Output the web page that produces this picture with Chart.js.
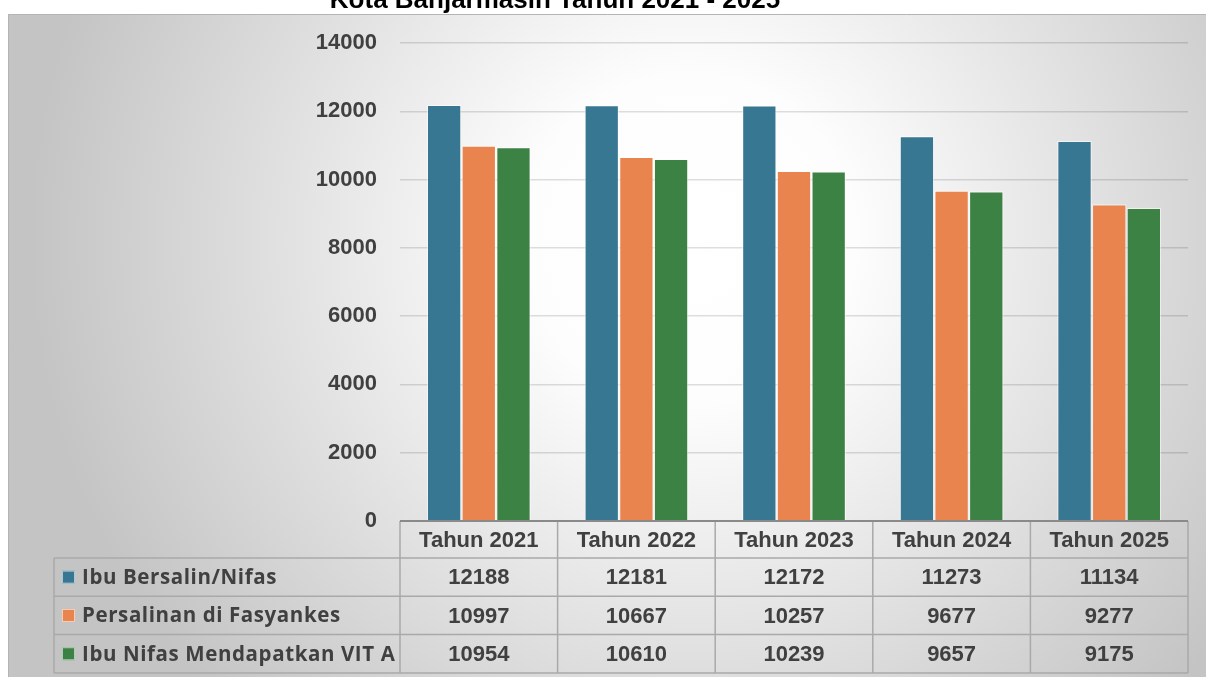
<!DOCTYPE html>
<html>
<head>
<meta charset="utf-8">
<script src="https://cdn.jsdelivr.net/npm/chart.js@4"></script>
<style>
  html, body { margin: 0; padding: 0; background: #ffffff; overflow: hidden; }
  #wrap { position: relative; width: 1206px; height: 677px; }
  #chart { position: absolute; left: 0; top: 0; }
  #title {
    position: absolute; left: 0; top: -16px; width: 1110px;
    text-align: center; white-space: nowrap;
    font: bold 26px "Liberation Sans", Arial, sans-serif; color: #000000;
  }
</style>
</head>
<body>
<div id="wrap">
  <canvas id="chart" width="1206" height="677"></canvas>
  <div id="title">Kota Banjarmasin Tahun 2021 - 2025</div>
</div>
<script>
// Categories (years) and series
const categories = ['Tahun 2021', 'Tahun 2022', 'Tahun 2023', 'Tahun 2024', 'Tahun 2025'];
const seriesNames = ['Ibu Bersalin/Nifas', 'Persalinan di Fasyankes', 'Ibu Nifas Mendapatkan VIT A'];
const ibuBersalinNifas = [12188, 12181, 12172, 11273, 11134];
const persalinanFasyankes = [10997, 10667, 10257, 9677, 9277];
const ibuNifasVitA = [10954, 10610, 10239, 9657, 9175];
const yTickMin = 0;
const yTickMax = 14000;
const yTickStep = 2000;

const seriesColors = ['#387792', '#ea844f', '#3b8244'];
const textColor = '#404040';

// Panel background: soft radial grey gradient with a thin border
const panelBackground = {
  id: 'panelBackground',
  beforeDraw(chart) {
    const ctx = chart.ctx;
    ctx.save();
    const g = ctx.createRadialGradient(690, 240, 0, 690, 240, 660);
    g.addColorStop(0, '#ffffff');
    g.addColorStop(0.25, '#fdfdfd');
    g.addColorStop(1, '#c4c4c4');
    ctx.fillStyle = g;
    ctx.fillRect(8, 14, 1198, 663);
    ctx.strokeStyle = '#b4b4b4';
    ctx.lineWidth = 1;
    ctx.beginPath();
    ctx.moveTo(8.5, 677);
    ctx.lineTo(8.5, 14.5);
    ctx.lineTo(1206, 14.5);
    ctx.stroke();
    ctx.restore();
  }
};

// Data table under the plot: header row of categories, one row per series
const dataTable = {
  id: 'dataTable',
  afterDraw(chart) {
    const ctx = chart.ctx;
    const xs = chart.scales.x;
    const area = chart.chartArea;
    const n = categories.length;
    const colW = (xs.right - xs.left) / n;
    const left = xs.left, right = xs.right;
    const legendLeft = 54;
    const top = area.bottom;
    const headerH = 37;
    const rowH = 38.3;
    const rowTops = [top + headerH];
    for (let r = 1; r <= seriesNames.length; r++) rowTops.push(top + headerH + r * rowH);
    const bottom = rowTops[rowTops.length - 1];

    ctx.save();
    // grid of the table
    ctx.strokeStyle = '#a9a9a9';
    ctx.lineWidth = 1.5;
    ctx.beginPath();
    for (let i = 0; i <= n; i++) {
      const x = left + i * colW;
      ctx.moveTo(x, top);
      ctx.lineTo(x, bottom);
    }
    ctx.moveTo(legendLeft, rowTops[0]);
    ctx.lineTo(legendLeft, bottom);
    rowTops.forEach(y => {
      ctx.moveTo(legendLeft, y);
      ctx.lineTo(right, y);
    });
    ctx.stroke();

    // axis baseline / table top
    ctx.strokeStyle = '#8a8a8a';
    ctx.lineWidth = 2;
    ctx.beginPath();
    ctx.moveTo(left, top);
    ctx.lineTo(right, top);
    ctx.stroke();

    ctx.fillStyle = textColor;
    ctx.textAlign = 'center';
    ctx.textBaseline = 'middle';
    ctx.font = 'bold 22px "Liberation Sans", Arial, sans-serif';
    categories.forEach((c, i) => {
      ctx.fillText(c, left + (i + 0.5) * colW, top + headerH / 2 + 1);
    });

    chart.data.datasets.forEach((ds, r) => {
      const yMid = (rowTops[r] + rowTops[r + 1]) / 2 + 1;
      ds.data.forEach((v, i) => {
        ctx.fillText(String(v), left + (i + 0.5) * colW, yMid);
      });
    });

    // legend keys and series names
    ctx.textAlign = 'left';
    ctx.font = 'bold 20.5px "Open Sans", sans-serif';
    if ('letterSpacing' in ctx) ctx.letterSpacing = '0.6px';
    chart.data.datasets.forEach((ds, r) => {
      const yMid = (rowTops[r] + rowTops[r + 1]) / 2;
      ctx.fillStyle = ds.backgroundColor;
      ctx.fillRect(62, yMid - 6.5, 13, 13);
      ctx.strokeStyle = 'rgba(255,255,255,0.6)';
      ctx.lineWidth = 1;
      ctx.strokeRect(62.5, yMid - 6, 12, 12);
      ctx.fillStyle = textColor;
      ctx.fillText(ds.label, 82, yMid + 1);
    });
    ctx.restore();
  }
};

const seriesValues = [ibuBersalinNifas, persalinanFasyankes, ibuNifasVitA];

new Chart(document.getElementById('chart'), {
  type: 'bar',
  data: {
    labels: categories,
    datasets: seriesNames.map((name, i) => ({
      label: name,
      data: seriesValues[i],
      backgroundColor: seriesColors[i],
      borderColor: 'rgba(255,255,255,0.55)',
      borderWidth: 1.2,
      categoryPercentage: 0.66,
      barPercentage: 1.0
    }))
  },
  options: {
    responsive: false,
    animation: false,
    devicePixelRatio: 1,
    layout: { padding: { top: 43, right: 18, bottom: 156, left: 0 } },
    plugins: {
      legend: { display: false },
      tooltip: { enabled: false },
      title: { display: false }
    },
    scales: {
      x: { display: false },
      y: {
        min: yTickMin,
        max: yTickMax,
        ticks: {
          stepSize: yTickStep,
          padding: 23,
          color: textColor,
          callback: v => String(v),
          font: { family: '"Liberation Sans", Arial, sans-serif', size: 22, weight: 'bold' }
        },
        grid: { color: 'rgba(0,0,0,0.13)', lineWidth: 1.5, drawTicks: false },
        border: { display: false },
        afterFit(scale) { scale.width = 400; }
      }
    }
  },
  plugins: [panelBackground, dataTable]
});
</script>
</body>
</html>
